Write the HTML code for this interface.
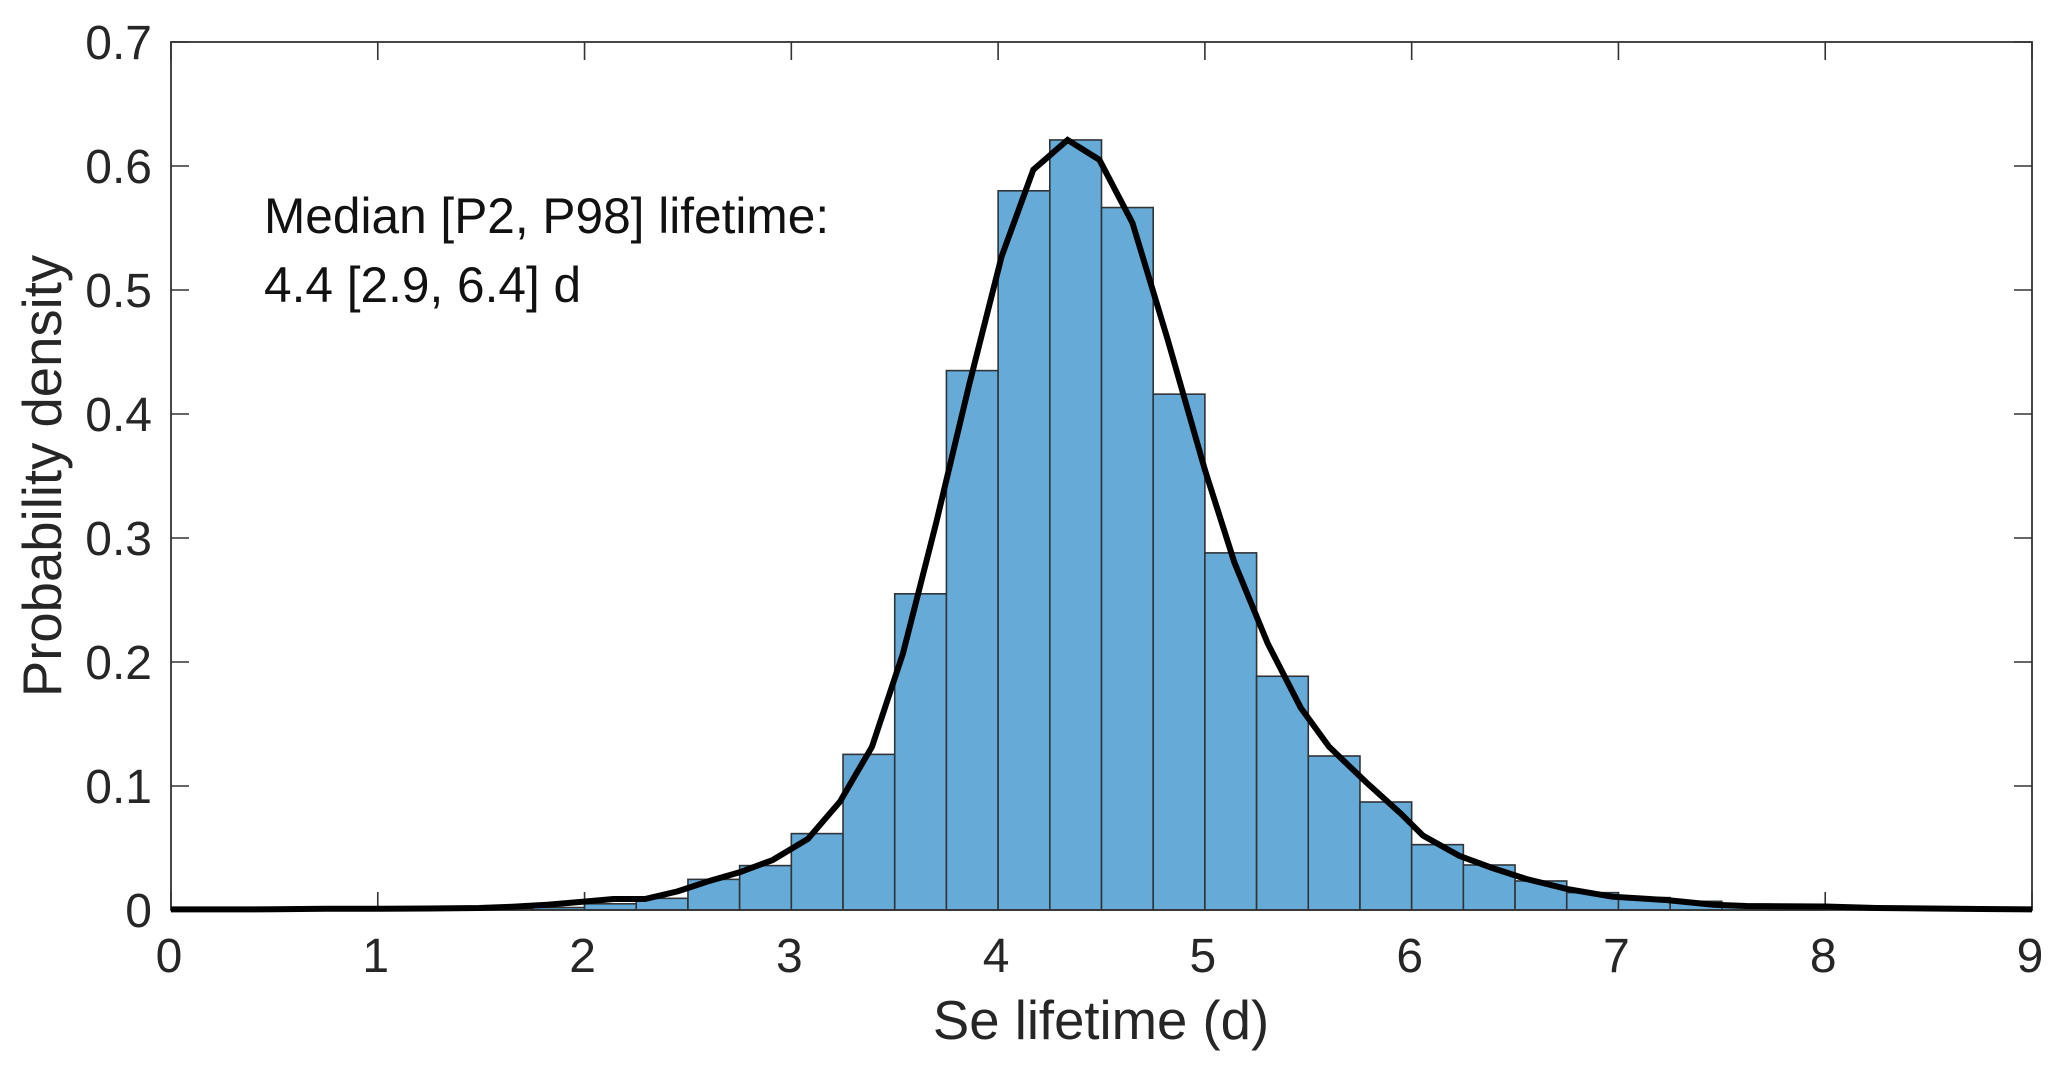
<!DOCTYPE html>
<html lang="en">
<head>
<meta charset="utf-8">
<title>Se lifetime histogram</title>
<style>
  html,body{margin:0;padding:0;background:#fff;}
  svg{display:block;font-family:"Liberation Sans",Arial,sans-serif;}
  .tick-label{font-size:48px;fill:#262626;}
  .axis-title{font-size:54.5px;fill:#262626;}
  .note{font-size:49.6px;fill:#111;}
</style>
</head>
<body>
<svg id="chart" xmlns="http://www.w3.org/2000/svg" width="2068" height="1074" viewBox="0 0 2068 1074">
  <rect x="0" y="0" width="2068" height="1074" fill="#fff"/>
  <g id="ticks"></g>
  <g id="bars"></g>
  <g id="box"></g>
  <g id="curve"></g>
  <g id="labels"></g>
  <text class="note" x="264" y="233">Median [P2, P98] lifetime:</text>
  <text class="note" x="264" y="302">4.4 [2.9, 6.4] d</text>
  <text class="axis-title" x="1101" y="1039" text-anchor="middle">Se lifetime (d)</text>
  <text class="axis-title" transform="translate(61,476) rotate(-90)" text-anchor="middle">Probability density</text>
</svg>
<script>
const xTickValues = [0, 1, 2, 3, 4, 5, 6, 7, 8, 9];
const xTickLabels = ['0', '1', '2', '3', '4', '5', '6', '7', '8', '9'];
const yTickValues = [0, 0.1, 0.2, 0.3, 0.4, 0.5, 0.6, 0.7];
const yTickLabels = ['0', '0.1', '0.2', '0.3', '0.4', '0.5', '0.6', '0.7'];

const binEdgesLeft = [1.25, 1.5, 1.75, 2, 2.25, 2.5, 2.75, 3, 3.25, 3.5, 3.75, 4, 4.25, 4.5, 4.75, 5, 5.25, 5.5, 5.75, 6, 6.25, 6.5, 6.75, 7, 7.25, 7.5, 7.75];
const binDensity = [0.001, 0.001, 0.002, 0.005, 0.0094, 0.0247, 0.0358, 0.0616, 0.1255, 0.255, 0.435, 0.58, 0.621, 0.5665, 0.416, 0.288, 0.1885, 0.1242, 0.0871, 0.0527, 0.0363, 0.0234, 0.014, 0.01, 0.007, 0.003, 0.002];
const binWidth = 0.25;

const curveX = [0, 0.5, 0.75, 1, 1.25, 1.49, 1.65, 1.82, 1.99, 2.14, 2.292, 2.45, 2.607, 2.75, 2.91, 3.08, 3.235, 3.39, 3.54, 3.70, 3.86, 4.017, 4.17, 4.336, 4.49, 4.65, 4.82, 5.0, 5.143, 5.304, 5.464, 5.6, 5.78, 5.946, 6.055, 6.23, 6.39, 6.555, 6.75, 6.97, 7.23, 7.46, 7.62, 7.78, 8.0, 8.25, 8.5, 8.75, 9];
const curveY = [0.0005, 0.0006, 0.001, 0.001, 0.0012, 0.0016, 0.0027, 0.0043, 0.0067, 0.0089, 0.0089, 0.015, 0.0236, 0.0304, 0.0403, 0.0573, 0.0873, 0.1317, 0.207, 0.312, 0.4236, 0.527, 0.597, 0.621, 0.605, 0.554, 0.46, 0.355, 0.28, 0.215, 0.163, 0.1317, 0.103, 0.078, 0.06, 0.0437, 0.0339, 0.025, 0.017, 0.0107, 0.0081, 0.0043, 0.0032, 0.003, 0.0028, 0.0016, 0.0012, 0.0008, 0.0005];

const SVG_NS = 'http://www.w3.org/2000/svg';
const plotLeft = 171, plotRight = 2032, plotTop = 42, plotBottom = 910;
const xMax = 9, yMax = 0.7;
function xScale(v) { return plotLeft + (v / xMax) * (plotRight - plotLeft); }
function yScale(v) { return plotBottom - (v / yMax) * (plotBottom - plotTop); }
function make(tag, attrs, parent) {
  const el = document.createElementNS(SVG_NS, tag);
  for (const k in attrs) el.setAttribute(k, attrs[k]);
  parent.appendChild(el);
  return el;
}

const ticksG = document.getElementById('ticks');
const barsG = document.getElementById('bars');
const boxG = document.getElementById('box');
const curveG = document.getElementById('curve');
const labelsG = document.getElementById('labels');
const tickLen = 18;
const tickStyle = { stroke: '#333', 'stroke-width': 1.6 };

xTickValues.forEach((v, i) => {
  const x = xScale(v);
  const bottom = make('line', Object.assign({ x1: x, x2: x, y1: plotBottom, y2: plotBottom - tickLen }, tickStyle), ticksG);
  
  
  const top = make('line', Object.assign({ x1: x, x2: x, y1: plotTop, y2: plotTop + tickLen }, tickStyle), ticksG);
  
  
  const label = make('text', { class: 'tick-label', x: x - 2, y: 972, 'text-anchor': 'middle' }, labelsG);
  label.textContent = xTickLabels[i];
  
  
});

yTickValues.forEach((v, i) => {
  const y = yScale(v);
  const left = make('line', Object.assign({ x1: plotLeft, x2: plotLeft + tickLen, y1: y, y2: y }, tickStyle), ticksG);
  
  
  const right = make('line', Object.assign({ x1: plotRight, x2: plotRight - tickLen, y1: y, y2: y }, tickStyle), ticksG);
  
  
  const label = make('text', { class: 'tick-label', x: 152, y: y + 17, 'text-anchor': 'end' }, labelsG);
  label.textContent = yTickLabels[i];
  
  
});

binDensity.forEach((d, i) => {
  const x0 = xScale(binEdgesLeft[i]);
  const x1 = xScale(binEdgesLeft[i] + binWidth);
  const y = yScale(d);
  const bar = make('rect', { x: x0, y: y, width: x1 - x0, height: plotBottom - y, fill: '#66aad7', stroke: '#2f3438', 'stroke-width': 1.6 }, barsG);
  
  
});

const frame = make('rect', { x: plotLeft, y: plotTop, width: plotRight - plotLeft, height: plotBottom - plotTop, fill: 'none', stroke: '#333', 'stroke-width': 1.8 }, boxG);



const points = curveX.map((x, i) => xScale(x).toFixed(1) + ',' + yScale(curveY[i]).toFixed(1)).join(' ');
const line = make('polyline', { points: points, fill: 'none', stroke: '#000', 'stroke-width': 6, 'stroke-linejoin': 'miter' }, curveG);


</script>
</body>
</html>
